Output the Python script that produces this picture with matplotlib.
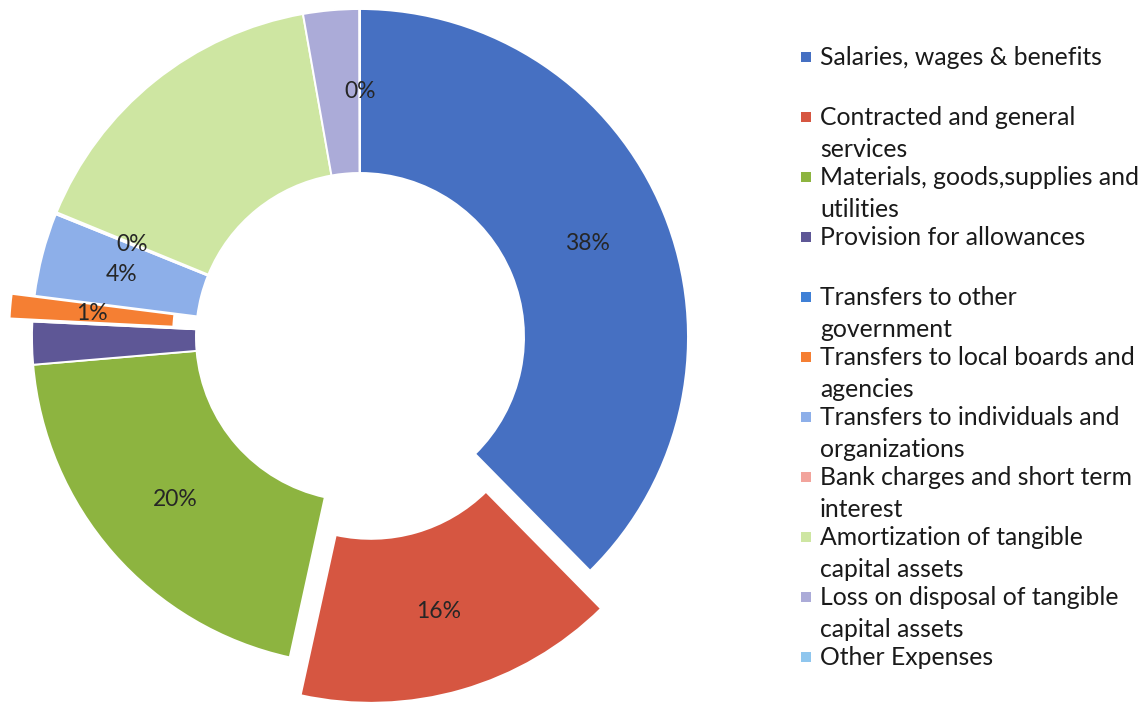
import numpy as np
import matplotlib.pyplot as plt

plt.rcParams['font.family'] = ['Lato', 'DejaVu Sans']

# Expense categories, clockwise from 12 o'clock
categories = [
    "Salaries, wages & benefits",
    "Contracted and general\nservices",
    "Materials, goods,supplies and\nutilities",
    "Provision for allowances",
    "Transfers to other\ngovernment",
    "Transfers to local boards and\nagencies",
    "Transfers to individuals and\norganizations",
    "Bank charges and short term\ninterest",
    "Amortization of tangible\ncapital assets",
    "Loss on disposal of tangible\ncapital assets",
    "Other Expenses",
]
# share of total expenses (%)
shares = [37.6, 15.8, 20.2, 2.1, 0.05, 1.2, 4.1, 0.1, 16.0, 2.75, 0.03]
colors = ["#4670C2", "#D65641", "#8DB440", "#5E5796", "#3F80D6", "#F57F33",
          "#8DAFE9", "#F2A49C", "#CEE6A2", "#ABABD8", "#8FC6EE"]
# which slices are pulled out of the ring
pulled = [0, 0.12, 0, 0, 0, 0.07, 0, 0, 0, 0, 0]
# which slices carry a percentage label
labelled = [True, True, True, False, False, True, True, True, False, False, True]

W, H = 1148, 707
R = 328.0                # ring radius in pixels
cx, cy = 360.0, 337.0    # ring centre in pixels (from top-left)

fig = plt.figure(figsize=(W / 100, H / 100), dpi=100)
ax = fig.add_axes([0, 0, 720 / W, 1])

wedges, _ = ax.pie(
    shares,
    colors=colors,
    explode=pulled,
    startangle=90,
    counterclock=False,
    radius=1.0,
    wedgeprops=dict(width=0.5, edgecolor="white", linewidth=1.4),
)
ax.set_xlim(-cx / R, (720 - cx) / R)
ax.set_ylim(-(H - cy) / R, cy / R)
ax.set_aspect("auto")
ax.axis("off")

# percentage labels in the middle of the ring
total = sum(shares)
for w, v, show in zip(wedges, shares, labelled):
    if not show:
        continue
    mid = np.deg2rad((w.theta1 + w.theta2) / 2)
    x = w.center[0] + 0.75 * np.cos(mid)
    y = w.center[1] + 0.75 * np.sin(mid)
    ax.text(x, y, f"{v / total:.0%}", ha="center", va="center",
            fontsize=16.5, color="#262626")

# legend drawn by hand so the marker sits on the first line of each label
lax = fig.add_axes([0, 0, 1, 1])
lax.set_xlim(0, W)
lax.set_ylim(H, 0)
lax.axis("off")
for i, (lab, col) in enumerate(zip(categories, colors)):
    base = 65 + 60 * i
    lax.scatter([806], [base - 8], marker="s", s=48, color=col, linewidths=0)
    for j, line in enumerate(lab.split("\n")):
        lax.text(820, base + 32 * j, line, ha="left", va="baseline",
                 fontsize=17.8, color="#1a1a1a")

fig.savefig("out.png", dpi=100)
